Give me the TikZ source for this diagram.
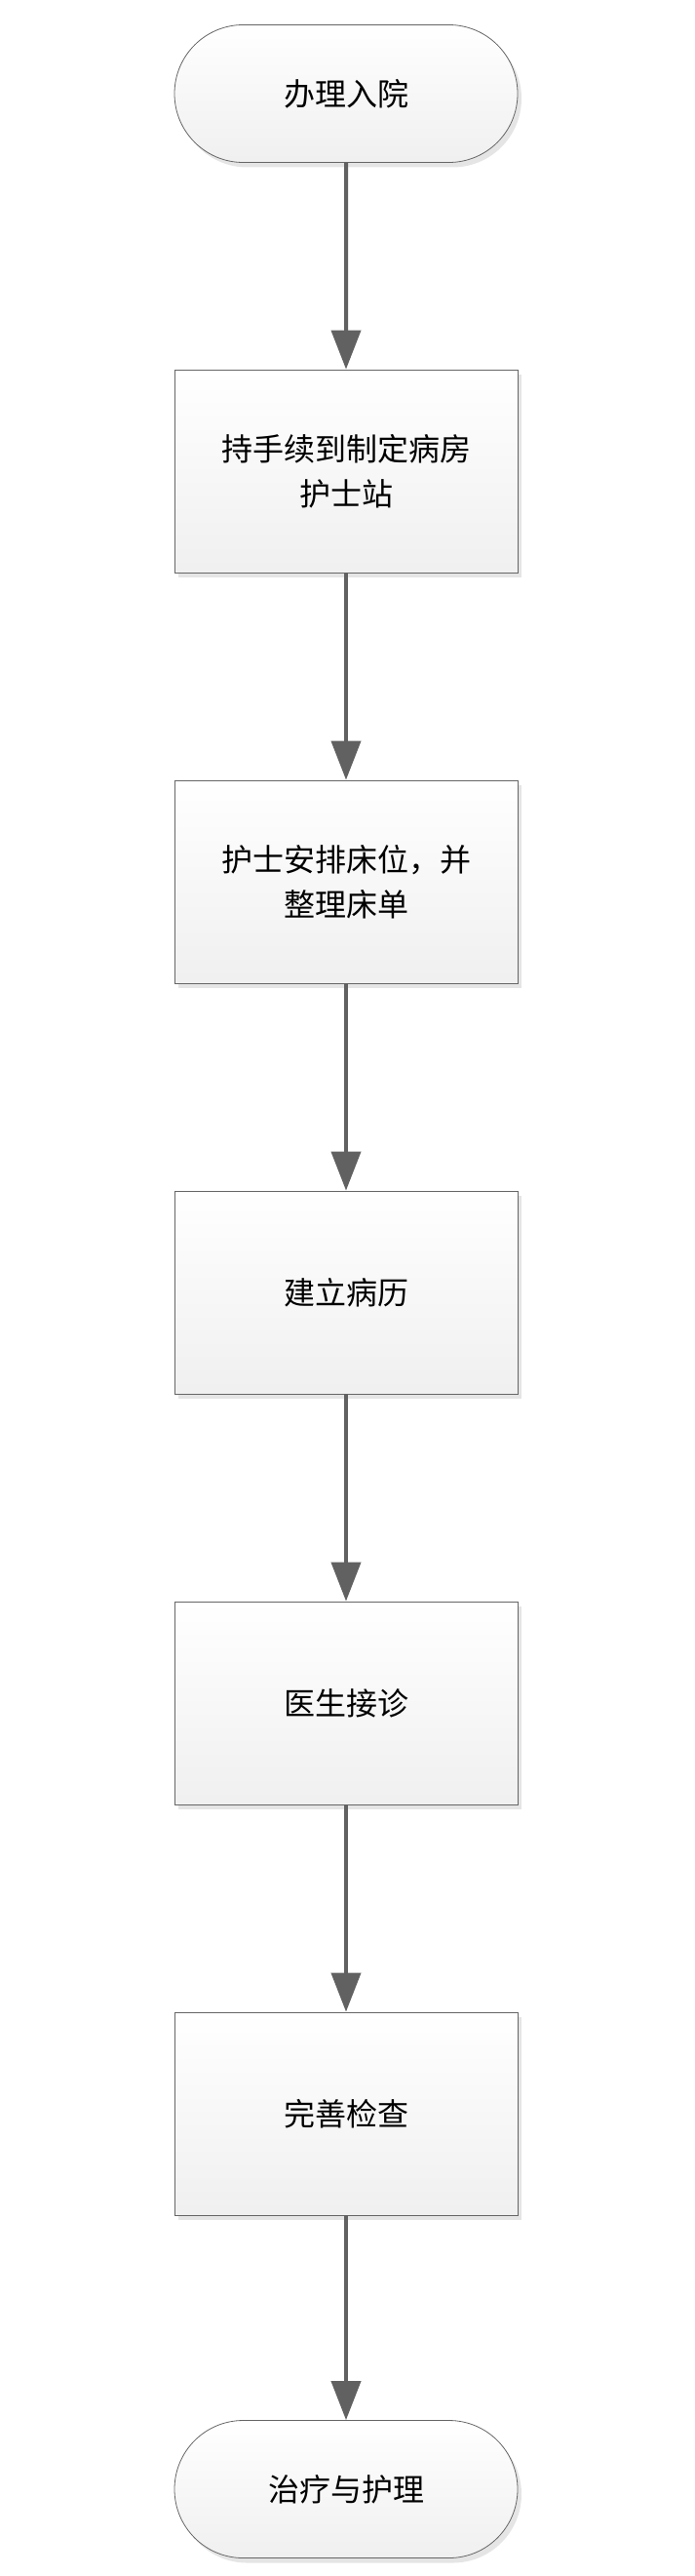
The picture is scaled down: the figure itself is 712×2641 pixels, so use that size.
\documentclass[tikz,border=0pt]{standalone}
\usepackage{fontspec}
\newfontfamily\cjk{Noto Sans CJK SC}
\usetikzlibrary{arrows.meta,shadows,shapes.misc}
\begin{document}
\begin{tikzpicture}[x=1pt,y=-1pt,
  base/.style={draw=black!60,line width=0.8pt,top color=white,bottom color=black!6,
    font=\cjk\fontsize{32}{46}\selectfont,align=center,inner sep=0pt,
    drop shadow={shadow xshift=4pt,shadow yshift=-5pt,fill=black!10,opacity=1}},
  procbox/.style={base,rectangle,minimum width=352pt,minimum height=208pt},
  termbox/.style={base,rounded rectangle,minimum width=352pt,minimum height=141pt},
  flow/.style={draw=black!62,line width=4pt,-{Triangle[length=40pt,width=30pt]}}]
\useasboundingbox (0,0) rectangle (712,2641);
\node[termbox] (s) at (355,96) {办理入院};
\node[procbox] (b1) at (355,483) {持手续到制定病房\\护士站};
\node[procbox] (b2) at (355,904) {护士安排床位，并\\整理床单};
\node[procbox] (b3) at (355,1325) {建立病历};
\node[procbox] (b4) at (355,1746) {医生接诊};
\node[procbox] (b5) at (355,2167) {完善检查};
\node[termbox] (e) at (355,2552) {治疗与护理};
\foreach \a/\b in {s/b1,b1/b2,b2/b3,b3/b4,b4/b5,b5/e}
  \draw[flow] (\a) -- (\b);
\end{tikzpicture}
\end{document}
